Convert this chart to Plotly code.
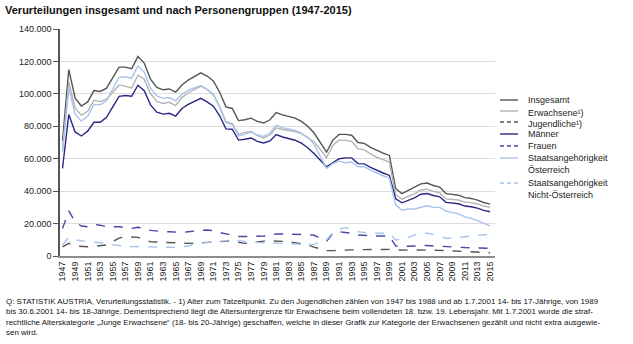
import plotly.graph_objects as go

years = list(range(1947, 2016))

insgesamt = [71000, 115000, 97500, 92500, 95000, 102000, 101500, 103500, 110000, 116500,
             116500, 115500, 123000, 119000, 109000, 104000, 102500, 103000, 101000, 105500,
             108500, 111000, 113000, 111000, 108000, 101000, 92000, 91000, 83500, 84000,
             85000, 83000, 82000, 84000, 88500, 87000, 86000, 85000, 83000, 80000,
             76000, 70000, 64000, 71500, 75000, 75000, 74500, 70000, 69500, 67000,
             65000, 63500, 62000, 41500, 38500, 40500, 42000, 44500, 45000, 43500,
             42500, 38500, 38000, 37500, 36000, 35500, 34500, 33000, 32000]

erwachsene = [65300, 107200, 91300, 86700, 89300, 96000, 95200, 96700, 101000, 105500,
              104600, 103600, 111500, 109000, 100200, 95400, 94100, 94800, 92800, 97700,
              100700, 103000, 104800, 102800, 99800, 92200, 82800, 81600, 75000, 76200,
              76800, 74200, 72800, 74600, 79100, 78000, 77200, 76800, 75500, 73200,
              70500, 65800, 60700, 68200, 71400, 71300, 70700, 66100, 65500, 63000,
              60900, 59400, 57900, 37800, 35000, 36900, 38300, 40700, 41200, 39900,
              39000, 35200, 34800, 34500, 33200, 32900, 32100, 30800, 30000]

jugendliche = [5700, 7800, 6200, 5800, 5700, 6000, 6300, 6800, 9000, 11000,
               11900, 11900, 11500, 10000, 8800, 8600, 8400, 8200, 8200, 7800,
               7800, 8000, 8200, 8200, 8200, 8800, 9200, 9400, 8500, 7800,
               8200, 8800, 9200, 9400, 9400, 9000, 8800, 8200, 7500, 6800,
               5500, 4200, 3300, 3300, 3600, 3700, 3800, 3900, 4000, 4000,
               4100, 4100, 4100, 3700, 3500, 3600, 3700, 3800, 3800, 3600,
               3500, 3300, 3200, 3000, 2800, 2600, 2400, 2200, 2000]

maenner = [54000, 87200, 76500, 74000, 77000, 82500, 82500, 85500, 92000, 98500,
           99000, 98500, 105300, 102000, 93200, 88700, 87500, 88000, 86300, 91000,
           93500, 95400, 97200, 95000, 92400, 86500, 78400, 78200, 71500, 72000,
           72800, 70700, 69700, 71000, 74900, 73400, 72400, 71400, 69600, 66800,
           63200, 59000, 55000, 57500, 60000, 60500, 60500, 57000, 56800, 54700,
           52700, 51200, 49700, 35300, 32800, 34500, 35800, 38100, 38500, 37300,
           36500, 33100, 32700, 32200, 30800, 30400, 29500, 28100, 27300]

frauen = [17000, 27800, 21000, 18500, 18000, 19500, 19000, 18000, 18000, 18000,
          17500, 17000, 17700, 17000, 15800, 15300, 15000, 15000, 14700, 14500,
          15000, 15600, 15800, 16000, 15600, 14500, 13600, 12800, 12000, 12000,
          12200, 12300, 12300, 13000, 13600, 13600, 13600, 13600, 13400, 13200,
          12800, 11000, 9000, 14000, 15000, 14500, 14000, 13000, 12700, 12300,
          12300, 12300, 12300, 6200, 5700, 6000, 6200, 6400, 6500, 6200,
          6000, 5400, 5300, 5300, 5200, 5100, 5000, 4900, 4700]

oesterreich = [64200, 103500, 87500, 83200, 86200, 93500, 93300, 95700, 103000, 110200,
               110500, 109700, 117300, 113400, 103500, 98700, 97200, 97700, 95700, 99800,
               102300, 103600, 105200, 102700, 99200, 91700, 82300, 81100, 74000, 75000,
               76400, 74600, 73800, 76000, 80600, 79200, 78200, 77500, 75800, 73200,
               69000, 61000, 54000, 57000, 58500, 57500, 58000, 55000, 55000, 53000,
               51000, 49500, 48000, 31600, 28200, 29000, 29000, 30100, 31000, 30100,
               30000, 27700, 27000, 26000, 24100, 23200, 21800, 20000, 18600]

nicht_oesterreich = [6800, 11500, 10000, 9300, 8800, 8500, 8200, 7800, 7000, 6300,
                     6000, 5800, 5700, 5600, 5500, 5300, 5300, 5300, 5300, 5700,
                     6200, 7400, 7800, 8300, 8800, 9300, 9700, 9900, 9500, 9000,
                     8600, 8400, 8200, 8000, 7900, 7800, 7800, 7500, 7200, 6800,
                     7000, 9000, 10000, 14500, 16500, 17500, 16500, 15000, 14500, 14000,
                     14000, 14000, 14000, 9900, 10300, 11500, 13000, 14400, 14000, 13400,
                     12500, 10800, 11000, 11500, 11900, 12300, 12700, 13000, 13400]

series_names = ["Insgesamt", "Erwachsene¹)", "Jugendliche¹)", "Männer", "Frauen",
                "Staatsangehörigkeit<br>Österreich", "Staatsangehörigkeit<br>Nicht-Österreich"]
series_values = [insgesamt, erwachsene, jugendliche, maenner, frauen, oesterreich, nicht_oesterreich]
series_colors = ["#555555", "#b4b4b4", "#555555", "#2a2785", "#4a47a3", "#a9c4ec", "#a9c4ec"]
series_dash = ["solid", "solid", "dash", "solid", "dash", "solid", "dash"]

# plot area in pixels
W, H = 633, 344
ML, MR, MT, MB = 60, 138, 29, 88
PW, PH = W - ML - MR, H - MT - MB


def px_x(x):
    return (x - ML) / PW


def px_y(y):
    return (H - MB - y) / PH


fig = go.Figure()
for name, vals, color, dash in zip(series_names, series_values, series_colors, series_dash):
    fig.add_trace(go.Scatter(x=years, y=vals, mode="lines", name=name.replace("<br>", " "),
                             line=dict(color=color, width=1.4, dash=dash), showlegend=False))

# manual compact legend
legend_y = [100, 111, 122, 134, 146, 158, 183]
shapes = []
annotations = []
for name, color, dash, ly in zip(series_names, series_colors, series_dash, legend_y):
    shapes.append(dict(type="line", xref="paper", yref="paper",
                       x0=px_x(500), x1=px_x(518), y0=px_y(ly), y1=px_y(ly),
                       line=dict(color=color, width=1.4, dash="4px,3px" if dash == "dash" else "solid")))
    two_lines = "<br>" in name
    offset = 6 if two_lines else (2 if "¹" in name else 0)
    annotations.append(dict(text=name, xref="paper", yref="paper", x=px_x(526),
                            y=px_y(ly + offset),
                            xanchor="left", yanchor="middle", align="left", showarrow=False,
                            font=dict(size=9, color="#222222")))

footnote = ("Q: STATISTIK AUSTRIA, Verurteilungsstatistik. - 1) Alter zum Tatzeitpunkt. Zu den Jugendlichen zählen von 1947 bis 1988 und ab 1.7.2001 14- bis 17-Jährige, von 1989<br>"
            "bis 30.6.2001 14- bis 18-Jährige. Dementsprechend liegt die Altersuntergrenze für Erwachsene beim vollendeten 18. bzw. 19. Lebensjahr. Mit 1.7.2001 wurde die straf-<br>"
            "rechtliche Alterskategorie „Junge Erwachsene“ (18- bis 20-Jährige) geschaffen, welche in dieser Grafik zur Kategorie der Erwachsenen gezählt und nicht extra ausgewie-<br>"
            "sen wird.")

annotations.append(dict(text="<b>Verurteilungen insgesamt und nach Personengruppen (1947-2015)</b>",
                        xref="paper", yref="paper", x=px_x(3), y=px_y(2), xanchor="left", yanchor="top",
                        showarrow=False, font=dict(size=11, color="#111111")))
annotations.append(dict(text=footnote, xref="paper", yref="paper", x=px_x(4), y=px_y(295), xanchor="left",
                        yanchor="top", align="left", showarrow=False,
                        font=dict(size=7.95, color="#111111")))

fig.update_layout(
    width=W, height=H,
    margin=dict(l=ML, r=MR, t=MT, b=MB),
    paper_bgcolor="white", plot_bgcolor="white",
    separators=",.",
    font=dict(family="Liberation Sans, Arial, sans-serif", size=9, color="#222222"),
    showlegend=False,
    xaxis=dict(range=[1946.6, 2015.8], tickvals=years[::2], ticktext=[str(y) for y in years[::2]],
               tickangle=-90, showgrid=False, showline=True, linecolor="#8c8c8c", linewidth=2,
               ticks="", zeroline=False, tickfont=dict(size=9, color="#222222")),
    yaxis=dict(range=[0, 140000], dtick=20000, tickformat=",d", showgrid=True,
               gridcolor="#dcdcdc", gridwidth=1, showline=True, linecolor="#555555",
               linewidth=1.5, ticks="outside", ticklen=5, tickcolor="#555555",
               zeroline=False, tickfont=dict(size=9, color="#222222")),
    shapes=shapes,
    annotations=annotations,
)

fig.write_html("out.html")
